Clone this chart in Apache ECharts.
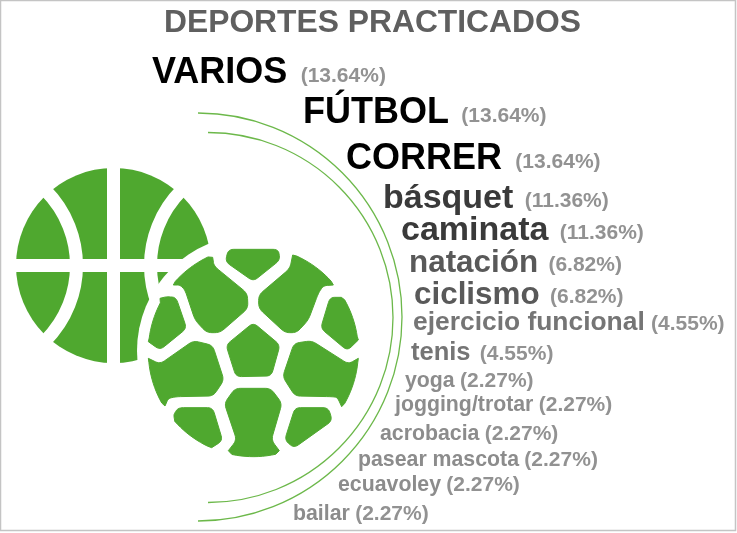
<!DOCTYPE html>
<html>
<head>
<meta charset="utf-8">
<style>
  html, body { margin: 0; padding: 0; background: #fff; }
  #chart { width: 737px; height: 533px; }
</style>
<script src="https://cdn.jsdelivr.net/npm/echarts@6/dist/echarts.min.js"></script>
</head>
<body>
<div id="chart"></div>
<script>
  var categories = ['VARIOS', 'FÚTBOL', 'CORRER', 'básquet', 'caminata', 'natación', 'ciclismo',
    'ejercicio funcional', 'tenis', 'yoga', 'jogging/trotar', 'acrobacia', 'pasear mascota', 'ecuavoley', 'bailar'];
  var shares = [13.64, 13.64, 13.64, 11.36, 11.36, 6.82, 6.82, 4.55, 4.55, 2.27, 2.27, 2.27, 2.27, 2.27, 2.27];

  // the words follow the arc, so their places are layout and not data
  var labelLeft = [152, 303, 346, 383, 401, 409, 414, 413, 411, 405, 395, 380, 358, 338, 293];
  var labelBaseline = [86, 126, 172, 211, 243, 274, 306, 332, 362, 389, 413, 442, 468, 493, 522];
  var nameSize = [36, 36, 36, 34, 34, 31.4, 31.4, 26.4, 25.5, 21.3, 21.3, 21.3, 21.3, 21.3, 21.3];
  var pctGap = [10, 9, 10, 8, 8, 7, 7, 3, 6, 2, 2, 2, 2, 2, 2];
  var nameColor = ['#000000', '#000000', '#000000', '#3a3a3a', '#3a3a3a', '#595959', '#595959',
    '#757575', '#757575', '#8c8c8c', '#8c8c8c', '#8c8c8c', '#8c8c8c', '#8c8c8c', '#8c8c8c'];

  var PCT_SIZE = 21, GREEN = '#4fa82f', LINE_GREEN = '#6cb84a', PCT_GREY = '#929292', FONT = '"Liberation Sans", Arial, sans-serif';

  // football panels in a 3x grid, scaled down below. rim = edge that runs along the ball's outline
  var footballPanels = [
    { pts: [[265, 28], [415, 28], [420, 60], [340, 124], [256, 65]] },
    { rim: 0, pts: [[100, 135], [218, 52], [222, 78], [322, 160], [324, 205], [240, 278], [200, 278], [165, 240], [135, 150], [120, 135]] },
    { rim: 0, pts: [[458, 45], [580, 135], [550, 137], [535, 160], [505, 240], [470, 278], [435, 278], [356, 205], [356, 165], [450, 85]] },
    { rim: 4, pts: [[80, 170], [108, 172], [140, 265], [60, 330], [25, 305], [60, 175]] },
    { rim: 1, pts: [[570, 172], [604, 172], [655, 300], [622, 332], [542, 265]] },
    { pts: [[340, 248], [420, 315], [394, 408], [288, 410], [258, 315]] },
    { rim: 8, pts: [[25, 355], [60, 372], [160, 302], [218, 316], [252, 420], [220, 468], [110, 470], [85, 475], [75, 498]] },
    { rim: 8, pts: [[655, 355], [625, 372], [515, 302], [462, 310], [428, 410], [465, 468], [575, 470], [592, 472], [605, 500]] },
    { rim: 4, pts: [[285, 445], [392, 445], [426, 490], [394, 600], [418, 632], [265, 632], [290, 600], [253, 490]] },
    { rim: 4, pts: [[102, 522], [115, 503], [218, 503], [248, 602], [215, 623], [102, 530]] },
    { pts: [[465, 503], [565, 503], [577, 542], [462, 624], [434, 600]] }
  ];

  // rounds the corners of a panel, except the sharp tips at both ends of the rim
  function panelPoints(panel) {
    var pts = panel.pts, n = pts.length, out = [];
    pts.forEach(function (p, i) {
      var prev = pts[(i + n - 1) % n], next = pts[(i + 1) % n];
      var onRim = panel.rim === i || panel.rim === (i + n - 1) % n;
      if (onRim) {
        out.push(p);
      } else {
        var d1 = Math.hypot(prev[0] - p[0], prev[1] - p[1]), d2 = Math.hypot(next[0] - p[0], next[1] - p[1]);
        var r1 = Math.min(16, d1 / 2.5) / d1, r2 = Math.min(16, d2 / 2.5) / d2;
        var a = [p[0] + (prev[0] - p[0]) * r1, p[1] + (prev[1] - p[1]) * r1];
        var b = [p[0] + (next[0] - p[0]) * r2, p[1] + (next[1] - p[1]) * r2];
        for (var s = 0; s <= 6; s++) {
          var u = s / 6, v = 1 - u;
          out.push([v * v * a[0] + 2 * u * v * p[0] + u * u * b[0], v * v * a[1] + 2 * u * v * p[1] + u * u * b[1]]);
        }
      }
      if (panel.rim !== i) return;
      var q = pts[(i + 1) % n];
      var t0 = Math.atan2(p[1] - 335, p[0] - 340), t1 = Math.atan2(q[1] - 335, q[0] - 340);
      if (t1 - t0 > Math.PI) t1 -= 2 * Math.PI;
      if (t0 - t1 > Math.PI) t1 += 2 * Math.PI;
      for (var k = 1; k < 12; k++) {
        var t = t0 + (t1 - t0) * k / 12;
        out.push([340 + 315 * Math.cos(t), 335 + 315 * Math.sin(t)]);
      }
    });
    return out;
  }

  var chart = echarts.init(document.getElementById('chart'));

  function renderLabel(params, api) {
    var i = params.dataIndex, size = nameSize[i];
    // token heights chosen so both font sizes sit on one baseline
    var pctHeight = 0.6 * size + 0.4 * PCT_SIZE;
    return {
      type: 'text',
      x: labelLeft[i],
      y: labelBaseline[i] + 0.15 * size,
      style: {
        text: '{n|' + categories[i] + '} {p|(' + api.value(0).toFixed(2) + '%)}',
        verticalAlign: 'bottom',
        rich: {
          n: { fontFamily: FONT, fontWeight: 'bold', fontSize: size, height: size, lineHeight: size, verticalAlign: 'bottom', fill: nameColor[i], color: nameColor[i] },
          p: {
            fontFamily: FONT, fontWeight: 'bold', fontSize: PCT_SIZE, height: pctHeight, lineHeight: pctHeight,
            verticalAlign: 'bottom', padding: [0, 0, 0, pctGap[i]], fill: PCT_GREY, color: PCT_GREY
          }
        }
      }
    };
  }

  chart.setOption({
    backgroundColor: '#ffffff',
    animation: false,
    title: {
      text: 'DEPORTES PRACTICADOS',
      left: 164,
      top: 7,
      padding: 0,
      textStyle: { fontFamily: FONT, fontWeight: 'bold', fontSize: 31.8, color: '#5f5f5f' }
    },
    graphic: [
      { type: 'circle', shape: { cx: 113.5, cy: 265.5, r: 97.5 }, style: { fill: GREEN } },
      { type: 'line', shape: { x1: 113.5, y1: 160, x2: 113.5, y2: 370 }, style: { stroke: '#fff', lineWidth: 13 } },
      { type: 'line', shape: { x1: 10, y1: 265.5, x2: 215, y2: 265.5 }, style: { stroke: '#fff', lineWidth: 13 } },
      { type: 'circle', shape: { cx: -30, cy: 265.5, r: 106.5 }, style: { fill: 'none', stroke: '#fff', lineWidth: 13 } },
      { type: 'circle', shape: { cx: 257, cy: 265.5, r: 106.5 }, style: { fill: 'none', stroke: '#fff', lineWidth: 13 } },
      { type: 'circle', shape: { cx: 253, cy: 351, r: 116 }, style: { fill: '#fff' } },
      {
        type: 'group',
        x: 140,
        y: 240,
        scaleX: 1 / 3,
        scaleY: 1 / 3,
        children: footballPanels.map(function (panel) {
          return { type: 'polygon', shape: { points: panelPoints(panel) }, style: { fill: GREEN, stroke: GREEN, lineWidth: 3, lineJoin: 'round' } };
        })
      },
      { type: 'arc', shape: { cx: 198, cy: 317, r: 204, startAngle: -Math.PI / 2, endAngle: Math.PI / 2 }, style: { fill: 'none', stroke: LINE_GREEN, lineWidth: 1.3 } },
      { type: 'arc', shape: { cx: 208, cy: 317.5, r: 185, startAngle: -Math.PI / 2, endAngle: Math.PI / 2 }, style: { fill: 'none', stroke: LINE_GREEN, lineWidth: 1.3 } },
      { type: 'rect', shape: { x: 0.5, y: 0.5, width: 735, height: 530 }, style: { fill: 'none', stroke: '#c4c4c4', lineWidth: 1.5 } }
    ],
    series: [{
      type: 'custom',
      coordinateSystem: 'none',
      renderItem: renderLabel,
      data: shares
    }]
  });
</script>
</body>
</html>
